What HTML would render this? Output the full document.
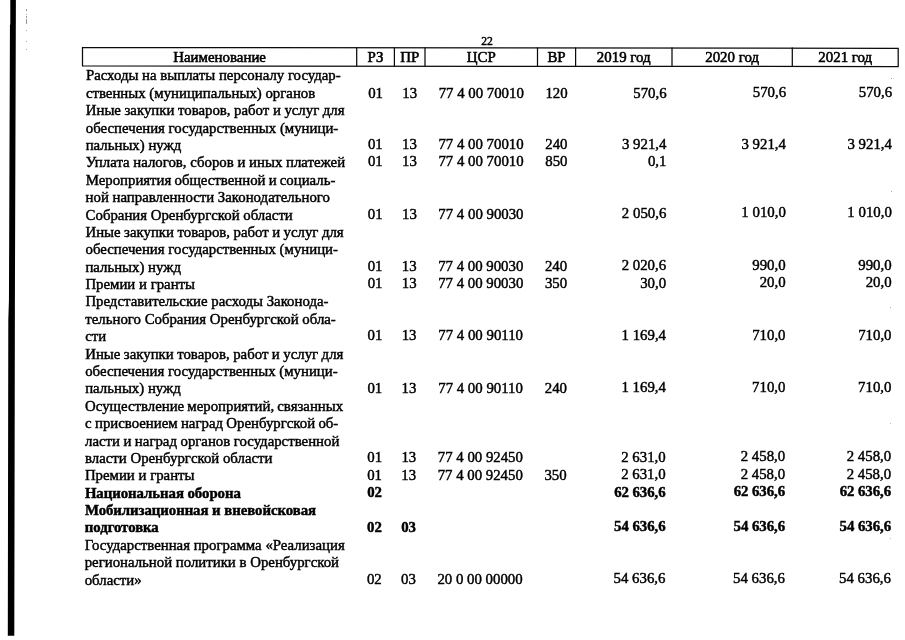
<!DOCTYPE html>
<html lang="ru">
<head>
<meta charset="utf-8">
<title>22</title>
<style>
html,body{margin:0;padding:0;background:#fff;}
body{width:905px;height:640px;position:relative;overflow:hidden;
 font-family:"Liberation Serif","DejaVu Serif",serif;font-size:14.82px;color:#000;}
#pg{position:absolute;left:0;top:0;width:905px;height:640px;}
.t{position:absolute;white-space:pre;line-height:17px;height:17px;-webkit-text-stroke:0.45px #000;}
.c{text-align:center;}
.r{text-align:right;}
.b{font-weight:bold;-webkit-text-stroke:0.45px #000;letter-spacing:-0.05px;}
.bar{position:absolute;background:#000;}
.hl{position:absolute;background:#2a2a2a;}
.pn{font-size:11.6px;}
.h{font-size:14.9px;-webkit-text-stroke:0.55px #000;}
</style>
</head>
<body>
<div id="pg">
<svg class="bar" style="background:none;left:0;top:0" width="30" height="640" viewBox="0 0 30 640"><polygon points="10.3,0 15.9,0 14.9,300 14.3,635.8 7.8,635.8 8.3,320 8.95,300 9.95,24.5 10.3,24.5" fill="#000"/></svg>
<svg style="position:absolute;left:0;top:0" width="905" height="80" viewBox="0 0 905 80"><g stroke="#0a0a0a" stroke-width="1.25" fill="none"><path d="M82.5 47.5 L898.2 48.3 L898.2 66.5 L82.5 66.0 Z"/><path d="M356.7 47.5 V66.3"/><path d="M394.4 47.5 V66.3"/><path d="M425.0 47.5 V66.3"/><path d="M537.5 47.5 V66.3"/><path d="M575.6 47.5 V66.3"/><path d="M672.0 47.5 V66.3"/><path d="M792.3 47.5 V66.3"/></g></svg>
<div style="position:absolute;left:26.0px;top:9.3px;width:1.0px;height:1.4px;background:#999"></div>
<div style="position:absolute;left:26.0px;top:14.0px;width:1.0px;height:0.8px;background:#aaa"></div>
<div style="position:absolute;left:26.0px;top:16.2px;width:1.0px;height:1.5px;background:#999"></div>
<div style="position:absolute;left:26.0px;top:19.2px;width:1.0px;height:4.8px;background:#999"></div>
<div style="position:absolute;left:26.0px;top:30.2px;width:1.0px;height:0.8px;background:#aaa"></div>
<div style="position:absolute;left:26.0px;top:41.2px;width:1.0px;height:0.8px;background:#aaa"></div>
<div style="position:absolute;left:26.0px;top:48.7px;width:1.0px;height:0.8px;background:#aaa"></div>
<div style="position:absolute;left:890.6px;top:77.5px;width:0.9px;height:0.9px;background:#999"></div>
<div style="position:absolute;left:890.6px;top:190.6px;width:0.9px;height:0.9px;background:#aaa"></div>
<div style="position:absolute;left:890.4px;top:306.5px;width:0.9px;height:0.9px;background:#aaa"></div>
<div style="position:absolute;left:890.4px;top:423.3px;width:0.9px;height:0.9px;background:#bbb"></div>
<div style="position:absolute;left:890.4px;top:538.2px;width:0.9px;height:0.9px;background:#bbb"></div>
<div class="t c pn" style="left:467px;top:32.53px;width:40px">22</div>
<div class="t c h" style="left:82.5px;top:49.23px;width:274.2px">Наименование</div>
<div class="t c h" style="left:356.7px;top:49.23px;width:37.7px">РЗ</div>
<div class="t c h" style="left:394.4px;top:49.23px;width:30.6px">ПР</div>
<div class="t c h" style="left:425.0px;top:49.23px;width:112.5px">ЦСР</div>
<div class="t c h" style="left:537.5px;top:49.23px;width:38.1px">ВР</div>
<div class="t c h" style="left:575.6px;top:49.23px;width:96.4px">2019 год</div>
<div class="t c h" style="left:672.0px;top:49.23px;width:120.3px">2020 год</div>
<div class="t c h" style="left:792.3px;top:49.23px;width:105.9px">2021 год</div>
<div class="t" style="left:85.9px;top:67.43px">Расходы на выплаты персоналу государ-</div>
<div class="t" style="left:85.9px;top:84.82px">ственных (муниципальных) органов</div>
<div class="t c" style="left:356.7px;top:84.57px;width:37.7px">01</div>
<div class="t c" style="left:394.4px;top:84.57px;width:30.6px">13</div>
<div class="t c" style="left:425.0px;top:84.57px;width:112.5px">77 4 00 70010</div>
<div class="t c" style="left:537.5px;top:84.57px;width:38.1px">120</div>
<div class="t r" style="left:566.6px;top:84.59px;width:100px">570,6</div>
<div class="t r" style="left:686.1px;top:84.39px;width:100px">570,6</div>
<div class="t r" style="left:792.1px;top:84.39px;width:100px">570,6</div>
<div class="t" style="left:85.8px;top:102.20px;word-spacing:-0.13px">Иные закупки товаров, работ и услуг для</div>
<div class="t" style="left:85.8px;top:119.59px">обеспечения государственных (муници-</div>
<div class="t" style="left:85.7px;top:136.98px">пальных) нужд</div>
<div class="t c" style="left:356.5px;top:136.09px;width:37.7px">01</div>
<div class="t c" style="left:394.2px;top:136.09px;width:30.6px">13</div>
<div class="t c" style="left:424.8px;top:136.09px;width:112.5px">77 4 00 70010</div>
<div class="t c" style="left:537.3px;top:136.09px;width:38.1px">240</div>
<div class="t r" style="left:566.4px;top:136.15px;width:100px">3 921,4</div>
<div class="t r" style="left:685.9px;top:136.10px;width:100px">3 921,4</div>
<div class="t r" style="left:791.9px;top:136.10px;width:100px">3 921,4</div>
<div class="t" style="left:85.7px;top:154.36px">Уплата налогов, сборов и иных платежей</div>
<div class="t c" style="left:356.5px;top:153.48px;width:37.7px">01</div>
<div class="t c" style="left:394.2px;top:153.48px;width:30.6px">13</div>
<div class="t c" style="left:424.8px;top:153.48px;width:112.5px">77 4 00 70010</div>
<div class="t c" style="left:537.3px;top:153.48px;width:38.1px">850</div>
<div class="t r" style="left:566.4px;top:153.02px;width:100px">0,1</div>
<div class="t" style="left:85.7px;top:171.75px;word-spacing:-0.55px">Мероприятия общественной и социаль-</div>
<div class="t" style="left:85.6px;top:189.13px">ной направленности Законодательного</div>
<div class="t" style="left:85.6px;top:206.52px">Собрания Оренбургской области</div>
<div class="t c" style="left:356.4px;top:205.65px;width:37.7px">01</div>
<div class="t c" style="left:394.1px;top:205.65px;width:30.6px">13</div>
<div class="t c" style="left:424.7px;top:205.65px;width:112.5px">77 4 00 90030</div>
<div class="t r" style="left:566.3px;top:204.74px;width:100px">2 050,6</div>
<div class="t r" style="left:685.8px;top:204.07px;width:100px">1 010,0</div>
<div class="t r" style="left:791.8px;top:204.07px;width:100px">1 010,0</div>
<div class="t" style="left:85.5px;top:223.91px;word-spacing:-0.23px">Иные закупки товаров, работ и услуг для</div>
<div class="t" style="left:85.5px;top:241.29px">обеспечения государственных (муници-</div>
<div class="t" style="left:85.4px;top:258.68px">пальных) нужд</div>
<div class="t c" style="left:356.2px;top:257.82px;width:37.7px">01</div>
<div class="t c" style="left:393.9px;top:257.82px;width:30.6px">13</div>
<div class="t c" style="left:424.5px;top:257.82px;width:112.5px">77 4 00 90030</div>
<div class="t c" style="left:537.0px;top:257.82px;width:38.1px">240</div>
<div class="t r" style="left:566.1px;top:257.36px;width:100px">2 020,6</div>
<div class="t r" style="left:685.6px;top:256.50px;width:100px">990,0</div>
<div class="t r" style="left:791.6px;top:256.50px;width:100px">990,0</div>
<div class="t" style="left:85.4px;top:276.07px">Премии и гранты</div>
<div class="t c" style="left:356.2px;top:275.21px;width:37.7px">01</div>
<div class="t c" style="left:393.9px;top:275.21px;width:30.6px">13</div>
<div class="t c" style="left:424.5px;top:275.21px;width:112.5px">77 4 00 90030</div>
<div class="t c" style="left:537.0px;top:275.21px;width:38.1px">350</div>
<div class="t r" style="left:566.1px;top:274.93px;width:100px">30,0</div>
<div class="t r" style="left:685.6px;top:274.15px;width:100px">20,0</div>
<div class="t r" style="left:791.6px;top:274.15px;width:100px">20,0</div>
<div class="t" style="left:85.4px;top:293.45px">Представительские расходы Законода-</div>
<div class="t" style="left:85.3px;top:310.84px">тельного Собрания Оренбургской обла-</div>
<div class="t" style="left:85.3px;top:328.23px">сти</div>
<div class="t c" style="left:356.1px;top:327.38px;width:37.7px">01</div>
<div class="t c" style="left:393.8px;top:327.38px;width:30.6px">13</div>
<div class="t c" style="left:424.4px;top:327.38px;width:112.5px">77 4 00 90110</div>
<div class="t r" style="left:566.0px;top:327.25px;width:100px">1 169,4</div>
<div class="t r" style="left:685.5px;top:326.58px;width:100px">710,0</div>
<div class="t r" style="left:791.5px;top:326.58px;width:100px">710,0</div>
<div class="t" style="left:85.2px;top:345.61px;word-spacing:-0.23px">Иные закупки товаров, работ и услуг для</div>
<div class="t" style="left:85.2px;top:363.00px">обеспечения государственных (муници-</div>
<div class="t" style="left:85.2px;top:380.38px">пальных) нужд</div>
<div class="t c" style="left:356.0px;top:379.55px;width:37.7px">01</div>
<div class="t c" style="left:393.7px;top:379.55px;width:30.6px">13</div>
<div class="t c" style="left:424.3px;top:379.55px;width:112.5px">77 4 00 90110</div>
<div class="t c" style="left:536.8px;top:379.55px;width:38.1px">240</div>
<div class="t r" style="left:565.9px;top:379.36px;width:100px">1 169,4</div>
<div class="t r" style="left:685.4px;top:378.61px;width:100px">710,0</div>
<div class="t r" style="left:791.4px;top:378.61px;width:100px">710,0</div>
<div class="t" style="left:85.1px;top:397.77px;word-spacing:-0.57px">Осуществление мероприятий, связанных</div>
<div class="t" style="left:85.1px;top:415.16px;word-spacing:-0.42px">с присвоением наград Оренбургской об-</div>
<div class="t" style="left:85.0px;top:432.54px;word-spacing:-0.20px">ласти и наград органов государственной</div>
<div class="t" style="left:85.0px;top:449.93px">власти Оренбургской области</div>
<div class="t c" style="left:355.8px;top:449.11px;width:37.7px">01</div>
<div class="t c" style="left:393.5px;top:449.11px;width:30.6px">13</div>
<div class="t c" style="left:424.1px;top:449.11px;width:112.5px">77 4 00 92450</div>
<div class="t r" style="left:565.7px;top:448.85px;width:100px">2 631,0</div>
<div class="t r" style="left:685.2px;top:448.39px;width:100px">2 458,0</div>
<div class="t r" style="left:791.2px;top:448.39px;width:100px">2 458,0</div>
<div class="t" style="left:84.9px;top:467.32px">Премии и гранты</div>
<div class="t c" style="left:355.7px;top:466.50px;width:37.7px">01</div>
<div class="t c" style="left:393.4px;top:466.50px;width:30.6px">13</div>
<div class="t c" style="left:424.0px;top:466.50px;width:112.5px">77 4 00 92450</div>
<div class="t c" style="left:536.5px;top:466.50px;width:38.1px">350</div>
<div class="t r" style="left:565.6px;top:466.22px;width:100px">2 631,0</div>
<div class="t r" style="left:685.1px;top:466.03px;width:100px">2 458,0</div>
<div class="t r" style="left:791.1px;top:466.03px;width:100px">2 458,0</div>
<div class="t b" style="left:84.9px;top:484.70px">Национальная оборона</div>
<div class="t c b" style="left:355.7px;top:483.89px;width:37.7px">02</div>
<div class="t r b" style="left:565.6px;top:483.60px;width:100px">62 636,6</div>
<div class="t r b" style="left:685.1px;top:483.38px;width:100px">62 636,6</div>
<div class="t r b" style="left:791.1px;top:483.38px;width:100px">62 636,6</div>
<div class="t b" style="left:84.9px;top:502.09px">Мобилизационная и вневойсковая</div>
<div class="t b" style="left:84.8px;top:519.48px">подготовка</div>
<div class="t c b" style="left:355.6px;top:518.67px;width:37.7px">02</div>
<div class="t c b" style="left:393.3px;top:518.67px;width:30.6px">03</div>
<div class="t r b" style="left:565.5px;top:518.34px;width:100px">54 636,6</div>
<div class="t r b" style="left:685.0px;top:518.06px;width:100px">54 636,6</div>
<div class="t r b" style="left:791.0px;top:518.06px;width:100px">54 636,6</div>
<div class="t" style="left:84.8px;top:536.86px">Государственная программа «Реализация</div>
<div class="t" style="left:84.7px;top:554.25px">региональной политики в Оренбургской</div>
<div class="t" style="left:84.7px;top:571.63px">области»</div>
<div class="t c" style="left:355.5px;top:570.84px;width:37.7px">02</div>
<div class="t c" style="left:393.2px;top:570.84px;width:30.6px">03</div>
<div class="t c" style="left:423.8px;top:570.84px;width:112.5px">20 0 00 00000</div>
<div class="t r" style="left:565.4px;top:570.46px;width:100px">54 636,6</div>
<div class="t r" style="left:684.9px;top:570.10px;width:100px">54 636,6</div>
<div class="t r" style="left:790.9px;top:570.10px;width:100px">54 636,6</div>
</div>
</body>
</html>
